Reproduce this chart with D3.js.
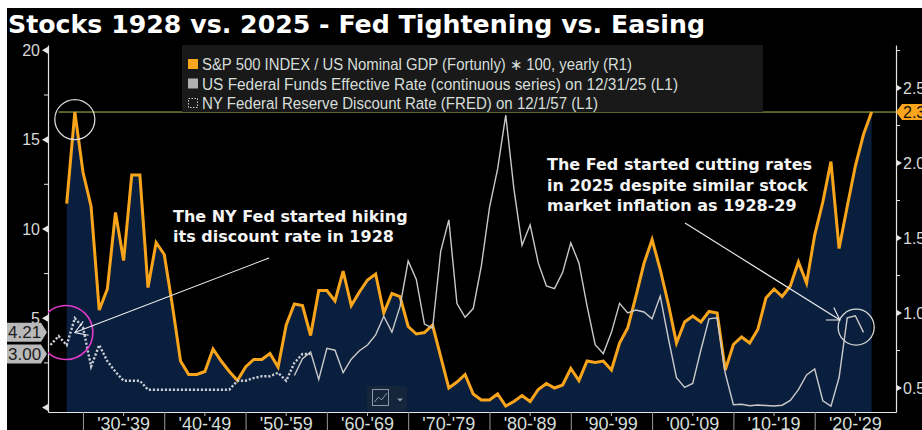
<!DOCTYPE html>
<html>
<head>
<meta charset="utf-8">
<script src="https://cdn.jsdelivr.net/npm/d3@7"></script>
<style>
	body { margin: 0; background: #fff; }
	svg { display: block; }
	text { font-family: "Liberation Sans", Arial, sans-serif; }
	.bold { font-family: "DejaVu Sans", Verdana, sans-serif; font-weight: bold; }
</style>
</head>
<body>
<div id="chart"></div>
<script>

// S&P 500 / nominal GDP * 100, yearly, right axis (first year 1927, plotted at year end)
var spxStart = 1927;
var spxValues = [
	1.73, 2.34, 1.94, 1.71, 1.02, 1.16, 1.67, 1.35, 1.92, 1.92,
	1.17, 1.47, 1.39, 1.05, 0.68, 0.59, 0.59, 0.61, 0.76, 0.68,
	0.61, 0.55, 0.64, 0.69, 0.69, 0.73, 0.64, 0.92, 1.06, 1.05,
	0.85, 1.15, 1.15, 1.08, 1.28, 1.05, 1.14, 1.22, 1.26, 1.00,
	1.13, 1.11, 0.91, 0.86, 0.87, 0.92, 0.71, 0.50, 0.54, 0.59,
	0.46, 0.42, 0.42, 0.46, 0.38, 0.41, 0.45, 0.41, 0.49, 0.53,
	0.50, 0.52, 0.63, 0.55, 0.68, 0.67, 0.68, 0.62, 0.80, 0.90,
	1.11, 1.33, 1.49, 1.29, 1.06, 0.80, 0.94, 0.98, 0.94, 1.01,
	1.00, 0.62, 0.79, 0.84, 0.80, 0.89, 1.10, 1.16, 1.11, 1.18,
	1.34, 1.20, 1.52, 1.74, 2.01, 1.43, 1.71, 1.98, 2.19, 2.34
];

// US fed funds effective rate, yearly average, left axis
var fedStart = 1955;
var fedValues = [
	1.79, 2.73, 3.11, 1.57, 3.31, 3.21, 1.95, 2.71, 3.18, 3.50,
	4.07, 5.11, 4.22, 5.66, 8.21, 7.17, 4.67, 4.44, 8.74, 10.51,
	5.82, 5.05, 5.54, 7.93, 11.19, 13.36, 16.38, 12.26, 9.09, 10.23,
	8.10, 6.81, 6.66, 7.57, 9.22, 8.10, 5.69, 3.52, 3.02, 4.21,
	5.83, 5.30, 5.46, 5.35, 4.97, 6.24, 3.88, 1.67, 1.13, 1.35,
	3.22, 4.97, 5.02, 1.92, 0.16, 0.18, 0.10, 0.14, 0.11, 0.09,
	0.13, 0.40, 1.00, 1.83, 2.16, 0.38, 0.08, 1.68, 5.02, 5.14,
	4.21
];

// NY Fed discount rate, left axis
var discStart = 1925;
var discValues = [
	3.5, 4.0, 3.5, 5.0, 4.5, 2.3, 3.5, 2.6, 2.0, 1.5, 1.5, 1.5,
	1.0, 1.0, 1.0, 1.0, 1.0, 1.0, 1.0, 1.0, 1.0, 1.0, 1.0,
	1.5, 1.5, 1.65, 1.75, 1.75, 1.95, 1.5, 2.5, 3.0, 3.0
];

var decades = [1930, 1940, 1950, 1960, 1970, 1980, 1990, 2000, 2010, 2020];
var leftTicks = [0, 5, 10, 15, 20];
var leftMinor = [2.5, 7.5, 12.5, 17.5];
var rightTicks = [0.5, 1.0, 1.5, 2.0, 2.5];
var rightMinor = [0.75, 1.25, 1.75, 2.25, 2.75];

var title = "Stocks 1928 vs. 2025 - Fed Tightening vs. Easing";
var legendLabels = [
	"S&P 500 INDEX / US Nominal GDP (Fortunly) \u2217 100, yearly (R1)",
	"US Federal Funds Effective Rate (continuous series) on 12/31/25 (L1)",
	"NY Federal Reserve Discount Rate (FRED) on 12/1/57 (L1)"
];
var legendWidths = [430, 476, 396];
var noteLeft = ["The NY Fed started hiking", "its discount rate in 1928"];
var noteRight = ["The Fed started cutting rates", "in 2025 despite similar stock", "market inflation as 1928-29"];


var W = 922, H = 430,
	plot = {left: 48, right: 896, top: 45, bottom: 412};

var colors = {orange: "#f9a51c", area: "#0a1f3e", gray: "#c9c9c9", dots: "#c8ccd4", axis: "#e4e4e4", label: "#d6ded9"};

var x = d3.scaleLinear().domain([1925.7, 2030]).range([plot.left, plot.right]);
var yL = d3.scaleLinear().domain([-0.25, 20.3]).range([plot.bottom, plot.top]);
var yR = d3.scaleLinear().domain([0.34, 2.787]).range([plot.bottom, plot.top]);

function series(start, values) {
	return values.map(function(v, i) { return {year: start + i, value: v}; });
}
function yearEnd(d) { return x(d.year + 1); }

var spx = series(spxStart, spxValues),
	fed = series(fedStart, fedValues),
	disc = series(discStart, discValues);

var svg = d3.select("#chart")
	.append("svg")
		.attr("width", W)
		.attr("height", H);

svg.append("rect")
	.attr("x", 7).attr("y", 8)
	.attr("width", W - 7).attr("height", H - 8)
	.attr("fill", "#000");

svg.append("text")
	.attr("class", "bold")
	.attr("x", 8).attr("y", 33)
	.attr("font-size", 25)
	.attr("fill", "#fff")
	.attr("textLength", 697).attr("lengthAdjust", "spacingAndGlyphs")
	.text(title);

svg.append("clipPath").attr("id", "plotclip")
	.append("rect")
		.attr("x", plot.left).attr("y", plot.top)
		.attr("width", plot.right - plot.left).attr("height", plot.bottom - plot.top);

var g = svg.append("g").attr("clip-path", "url(#plotclip)");


// area and lines
g.append("path")
	.datum(spx)
	.attr("fill", colors.area)
	.attr("d", d3.area().x(yearEnd).y0(plot.bottom).y1(function(d) { return yR(d.value); }));

var last = spxValues[spxValues.length - 1];

g.append("line")
	.attr("x1", x(spxStart)).attr("x2", plot.right)
	.attr("y1", yR(last)).attr("y2", yR(last))
	.attr("stroke", "#b7bf48").attr("stroke-width", 1);

g.append("path")
	.datum(spx)
	.attr("fill", "none")
	.attr("stroke", colors.orange)
	.attr("stroke-width", 3)
	.attr("d", d3.line().x(yearEnd).y(function(d) { return yR(d.value); }));

g.append("path")
	.datum(disc)
	.attr("fill", "none")
	.attr("stroke", colors.dots)
	.attr("stroke-width", 2.4)
	.attr("stroke-dasharray", "2.2,1.8")
	.attr("d", d3.line().x(yearEnd).y(function(d) { return yL(d.value); }));

g.append("path")
	.datum(fed)
	.attr("fill", "none")
	.attr("stroke", colors.gray)
	.attr("stroke-width", 1.4)
	.attr("d", d3.line().x(yearEnd).y(function(d) { return yL(d.value); }));


// legend
var legend = svg.append("g").attr("class", "legend");

legend.append("rect")
	.attr("x", 182).attr("y", 45)
	.attr("width", 581).attr("height", 67)
	.attr("fill", "#191919");

legend.selectAll("text")
	.data(legendLabels)
	.enter().append("text")
		.attr("x", 202)
		.attr("y", function(d, i) { return 70 + i * 19.5; })
		.attr("font-size", 16)
		.attr("fill", colors.label)
		.attr("textLength", function(d, i) { return legendWidths[i]; })
		.attr("lengthAdjust", "spacingAndGlyphs")
		.text(function(d) { return d; });

legend.append("rect").attr("x", 188).attr("y", 59).attr("width", 10).attr("height", 10).attr("fill", colors.orange);
legend.append("rect").attr("x", 188).attr("y", 78.5).attr("width", 10).attr("height", 10).attr("fill", "#b0b0b0");
legend.append("rect").attr("x", 188.5).attr("y", 98.5).attr("width", 9).attr("height", 9)
	.attr("fill", "none").attr("stroke", "#c8c8c8").attr("stroke-dasharray", "1.5,1.5");


// axes
var axisL = d3.axisLeft(yL).tickValues(leftTicks.slice(1)).tickSize(0).tickSizeOuter(0).tickPadding(8);
var axisR = d3.axisRight(yR).tickValues(rightTicks).tickSize(0).tickSizeOuter(0).tickPadding(7).tickFormat(d3.format(".1f"));
var axisX = d3.axisBottom(x).tickValues(decades).tickSize(18).tickSizeOuter(0).tickFormat("");

function styleAxis(sel) {
	sel.select(".domain").attr("stroke", colors.axis).attr("stroke-width", 1.2);
	sel.selectAll("text").attr("fill", "#d8d8d8").attr("font-size", 16).attr("font-family", "Liberation Sans, Arial, sans-serif");
}

svg.append("g")
	.attr("class", "y axis left")
	.attr("transform", "translate(" + plot.left + ",0)")
	.call(axisL)
	.call(styleAxis);

svg.append("g")
	.attr("class", "y axis right")
	.attr("transform", "translate(" + plot.right + ",0)")
	.call(axisR)
	.call(styleAxis);

svg.append("g")
	.attr("class", "x axis")
	.attr("transform", "translate(0," + plot.bottom + ")")
	.call(axisX)
	.call(styleAxis)
	.selectAll(".tick line").attr("stroke", "#9a9a9a");

svg.append("g")
	.selectAll("line")
	.data(decades)
	.enter().append("line")
		.attr("x1", function(d) { return x(d + 5); })
		.attr("x2", function(d) { return x(d + 5); })
		.attr("y1", plot.bottom).attr("y2", plot.bottom + 4)
		.attr("stroke", "#bbb");

svg.append("g")
	.selectAll("text")
	.data(decades)
	.enter().append("text")
		.attr("x", function(d) { return x(d + 5); })
		.attr("y", 430)
		.attr("text-anchor", "middle")
		.attr("font-size", 18)
		.attr("fill", colors.label)
		.text(function(d) {
			var a = d % 100;
			return "'" + d3.format("02d")(a) + "-'" + d3.format("02d")(a + 9);
		});

var ticks = svg.append("g").attr("fill", colors.axis).attr("stroke", colors.axis);

ticks.selectAll("path.l")
	.data(leftTicks)
	.enter().append("path")
		.attr("stroke", "none")
		.attr("d", function(d) { var y = yL(d); return "M" + plot.left + "," + (y - 3.5) + "V" + (y + 3.5) + "L" + (plot.left - 6) + "," + y + "Z"; });

ticks.selectAll("line.l")
	.data(leftMinor)
	.enter().append("line")
		.attr("x1", plot.left - 4).attr("x2", plot.left)
		.attr("y1", function(d) { return yL(d); }).attr("y2", function(d) { return yL(d); });

ticks.selectAll("path.r")
	.data(rightTicks)
	.enter().append("path")
		.attr("stroke", "none")
		.attr("d", function(d) { var y = yR(d); return "M" + plot.right + "," + (y - 3.5) + "V" + (y + 3.5) + "L" + (plot.right + 6) + "," + y + "Z"; });

ticks.selectAll("line.r")
	.data(rightMinor)
	.enter().append("line")
		.attr("x1", plot.right).attr("x2", plot.right + 4)
		.attr("y1", function(d) { return yR(d); }).attr("y2", function(d) { return yR(d); });


// last value tags
var tags = svg.append("g");

[[fedValues[fedValues.length - 1], "#b9b9b9"], [discValues[discValues.length - 1], "#b9b9b9"]].forEach(function(t) {
	var y = yL(t[0]);
	tags.append("path")
		.attr("d", "M7," + (y - 9.5) + "H41L47," + y + "L41," + (y + 9.5) + "H7Z")
		.attr("fill", t[1]);
	tags.append("text")
		.attr("x", 8).attr("y", y + 6)
		.attr("font-size", 17)
		.attr("fill", "#1c1c1c")
		.text(d3.format(".2f")(t[0]));
});

var yt = yR(last);
tags.append("path")
	.attr("d", "M" + plot.right + "," + yt + "L" + (plot.right + 6) + "," + (yt - 8) + "H" + W + "V" + (yt + 8) + "H" + (plot.right + 6) + "Z")
	.attr("fill", colors.orange);
tags.append("text")
	.attr("x", plot.right + 7).attr("y", yt + 6)
	.attr("font-size", 16)
	.attr("fill", "#111")
	.text(d3.format(".2f")(last));


// chart type icon
var icon = svg.append("g");
icon.append("rect").attr("x", 367).attr("y", 386).attr("width", 40).attr("height", 25).attr("rx", 2).attr("fill", "#15253b");
icon.append("rect").attr("x", 372.5).attr("y", 389.5).attr("width", 16).attr("height", 16).attr("fill", "none").attr("stroke", "#8d98a8");
icon.append("path").attr("d", "M374.5,402L378.5,397L381.5,400L387,393").attr("fill", "none").attr("stroke", "#8d98a8");
icon.append("path").attr("d", "M397,398.5H403L400,401.5Z").attr("fill", "#8d98a8");


// annotations
var notes = svg.append("g");

notes.append("circle")
	.attr("cx", x(1929)).attr("cy", yR(2.29)).attr("r", 20)
	.attr("fill", "none").attr("stroke", "#d8d8d8").attr("stroke-width", 1.3);

notes.append("circle")
	.attr("clip-path", "url(#plotclip)")
	.attr("cx", x(1927.9)).attr("cy", yL(4.2)).attr("r", 27)
	.attr("fill", "none").attr("stroke", "#e03cc8").attr("stroke-width", 1.6);

notes.append("circle")
	.attr("cx", x(2025.1)).attr("cy", yL(4.5)).attr("r", 18)
	.attr("fill", "none").attr("stroke", "#d8d8d8").attr("stroke-width", 1.3);

function arrow(x1, y1, x2, y2) {
	var a = Math.atan2(y1 - y2, x1 - x2), len = 14, spread = 32 * Math.PI / 180;

	notes.append("line")
		.attr("x1", x1).attr("y1", y1).attr("x2", x2).attr("y2", y2)
		.attr("stroke", "#eee").attr("stroke-width", 1.1);

	notes.append("path")
		.attr("fill", "none").attr("stroke", "#eee").attr("stroke-width", 1.1)
		.attr("d", "M" + (x2 + len * Math.cos(a - spread)) + "," + (y2 + len * Math.sin(a - spread)) +
			"L" + x2 + "," + y2 +
			"L" + (x2 + len * Math.cos(a + spread)) + "," + (y2 + len * Math.sin(a + spread)));
}

arrow(269, 258, x(1929), yL(4.2));
arrow(685, 223, x(2023.1), yL(4.9));

notes.selectAll("text.nl")
	.data(noteLeft)
	.enter().append("text")
		.attr("class", "bold")
		.attr("x", 173)
		.attr("y", function(d, i) { return 222 + i * 20; })
		.attr("font-size", 16)
		.attr("fill", "#f4f4f4")
		.text(function(d) { return d; });

notes.selectAll("text.nr")
	.data(noteRight)
	.enter().append("text")
		.attr("class", "bold")
		.attr("x", 547)
		.attr("y", function(d, i) { return 170 + i * 20.5; })
		.attr("font-size", 16)
		.attr("fill", "#f4f4f4")
		.text(function(d) { return d; });

</script>
</body>
</html>
